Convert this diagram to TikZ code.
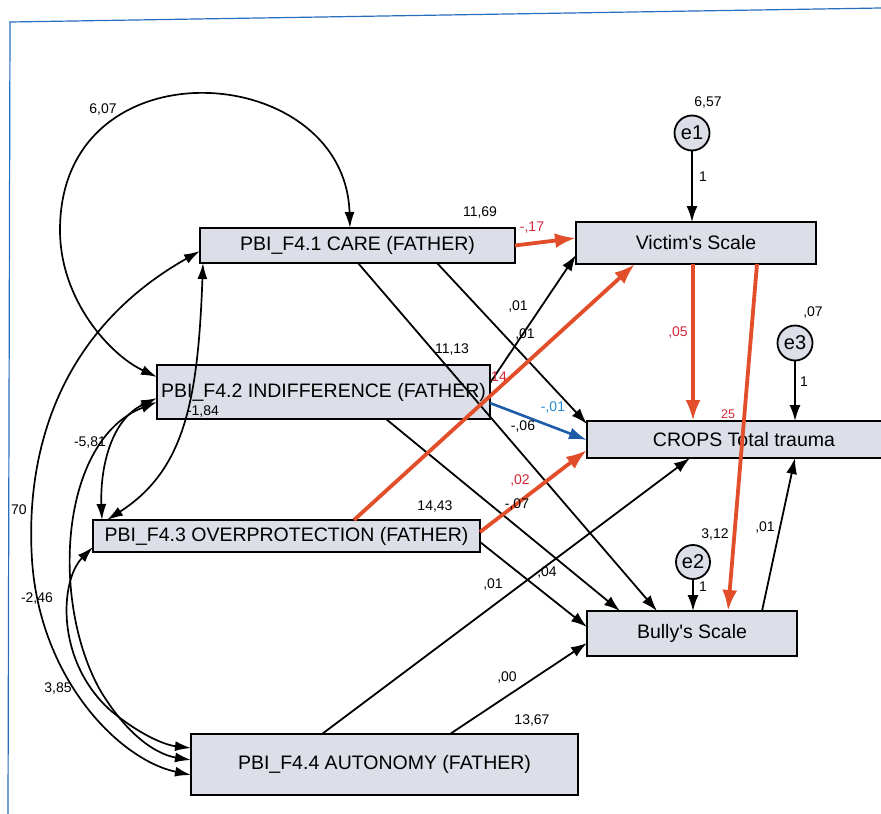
\documentclass[tikz,border=0pt]{standalone}
\usepackage{fontspec}
\setmainfont{Liberation Sans}[Ligatures=TeXOff]
\usetikzlibrary{arrows.meta,calc}
\definecolor{boxfill}{RGB}{220,222,232}
\definecolor{pathred}{RGB}{226,78,42}
\definecolor{labred}{RGB}{214,40,56}
\definecolor{pathblue}{RGB}{28,92,168}
\definecolor{labblue}{RGB}{40,140,210}
\definecolor{frameblue}{RGB}{40,110,190}
\begin{document}
\begin{tikzpicture}[x=1pt,y=-1pt,
  var/.style={draw=black,line width=2pt,fill=boxfill,rectangle,inner sep=0pt,outer sep=0pt,font=\fontsize{19.5}{19.5}\selectfont},
  err/.style={draw=black,line width=1.8pt,fill=boxfill,circle,inner sep=0pt,outer sep=0pt,minimum size=35pt,font=\fontsize{20}{20}\selectfont},
  num/.style={font=\fontsize{14}{14}\selectfont,inner sep=0pt},
  blk/.style={line width=1.8pt,-{Latex[length=16pt,width=11pt]}},
  cov/.style={line width=1.7pt,{Latex[length=16pt,width=10pt]}-{Latex[length=16pt,width=10pt]}},
  redp/.style={line width=3.8pt,draw=pathred,-{Latex[length=21pt,width=15pt]}},
  bluep/.style={line width=2.6pt,draw=pathblue,-{Latex[length=18pt,width=12pt]}},
]
\fill[white] (0,0) rectangle (881,814);
\useasboundingbox (0,0) rectangle (881,814);
\draw[frameblue,line width=1.2pt] (8,814) -- (10,22) -- (881,8);

% variables
\node[var,minimum width=315pt,minimum height=35pt] (care) at (357.5,245.5) {PBI\_F4.1 CARE (FATHER)};
\node[var,minimum width=333pt,minimum height=54pt] (indif) at (323.5,392) {\raisebox{2pt}{PBI\_F4.2 INDIFFERENCE (FATHER)}};
\node[var,minimum width=387pt,minimum height=32pt] (over) at (286.5,536) {PBI\_F4.3 OVERPROTECTION (FATHER)};
\node[var,minimum width=387pt,minimum height=61pt] (auto) at (384.5,764.5) {PBI\_F4.4 AUTONOMY (FATHER)};
\node[var,minimum width=240pt,minimum height=42pt] (vict) at (696,243) {Victim's Scale};
\node[var,minimum width=314pt,minimum height=37pt] (crops) at (744,439.5) {CROPS Total trauma};
\node[var,minimum width=210pt,minimum height=45pt] (bully) at (692,633.5) {Bully's Scale};
\node[err] (e1) at (692,133) {e1};
\node[err] (e3) at (795,343) {e3};
\node[err,minimum size=34pt] (e2) at (693,562) {e2};

% black paths
\draw[blk] ($(care.south west)+(158,0)$) -- ($(bully.north west)+(70,0)$);
\draw[blk] ($(care.south west)+(237,0)$) -- ($(crops.north west)+(0,3)$);
\draw[blk] ($(indif.north east)+(0,18)$) -- ($(vict.south west)+(0,-9)$);
\draw[blk] ($(indif.south west)+(229,0)$) -- ($(bully.north west)+(33,0)$);
\draw[blk] ($(over.north east)+(0,22)$) -- ($(bully.north west)+(0,16)$);
\draw[blk] ($(auto.north west)+(131,0)$) -- ($(crops.south west)+(103,0)$);
\draw[blk] ($(auto.north west)+(259,0)$) -- ($(bully.north west)+(0,32)$);
\draw[blk] ($(bully.north west)+(175,0)$) -- ($(crops.south west)+(208,0)$);
\draw[blk] (e1.south) -- (e1.south |- vict.north);
\draw[blk] (e3.south) -- (e3.south |- crops.north);
\draw[blk] (e2.south) -- (e2.south |- bully.north);

% covariances
\draw[cov] ($(care.north west)+(150,0)$) .. controls (345,60) and (60,40) .. (60,230) .. controls (60,300) and (110,355) .. ($(indif.north west)+(0,12)$);
\draw[cov] ($(care.south west)+(3,0)$) .. controls (198,400) and (185,470) .. ($(over.north west)+(14,0)$);
\draw[cov] ($(indif.north west)+(0,33)$) .. controls (110,420) and (100,470) .. ($(over.north west)+(9,0)$);
\draw[cov] ($(care.south west)+(0,-12)$) .. controls (60,330) and (25,450) .. (32,560) .. controls (40,680) and (120,760) .. ($(auto.north west)+(0,41)$);
\draw[cov] ($(indif.north west)+(0,37)$) .. controls (60,440) and (50,600) .. (100,690) .. controls (130,740) and (160,755) .. ($(auto.north west)+(0,26)$);
\draw[cov] ($(over.south west)+(0,-5)$) .. controls (60,580) and (55,660) .. (110,710) .. controls (140,735) and (165,745) .. ($(auto.north west)+(0,14)$);

% red and blue paths
\draw[redp] (care.east) -- ($(vict.west)+(0,-5)$);
\draw[redp] ($(over.north west)+(261,0)$) -- ($(vict.south west)+(59,0)$);
\draw[redp] ($(over.north east)+(0,12)$) -- ($(crops.south west)+(0,-8)$);
\draw[redp] ($(vict.south west)+(117,0)$) -- ($(crops.north west)+(106,0)$);
\draw[redp] ($(vict.south west)+(181,0)$) -- ($(bully.north west)+(141,0)$);
\draw[bluep] ($(indif.north east)+(0,38)$) -- ($(crops.north west)+(0,19)$);

% labels
\node[num] (l657) at (708,103) {6,57};
\node[num] (le1) at (703,177) {1};
\node[num] (l007) at (813,313) {,07};
\node[num] (le3) at (804,382) {1};
\node[num] (l312) at (715,535) {3,12};
\node[num] (le2) at (703,587) {1};
\node[num] (lbc) at (765,528) {,01};
\node[num] (l607) at (103,110) {6,07};
\node[num,anchor=west] (l70) at (11,510) {70};
\node[num] (l581) at (90,443) {-5,81};
\node[num] (l184) at (203,412) {-1,84};
\node[num] (l246) at (37,598) {-2,46};
\node[num] (l385) at (58,688) {3,85};
\node[num] (l1169) at (480,213) {11,69};
\node[num,text=labred] (l017) at (532,228) {-,17};
\node[num] (la01) at (518,307) {,01};
\node[num] (lb01) at (525,335) {,01};
\node[num] (l1113) at (452,350) {11,13};
\node[num,text=labred] (l14) at (499,377) {14};
\node[num,text=labblue] (lm01) at (553,408) {-,01};
\node[num] (lm06) at (523,427) {-,06};
\node[num,text=labred] (l05) at (678,333) {,05};
\node[num,text=labred,font=\fontsize{12.5}{13}\selectfont] (l25) at (728,414) {25};
\node[num,text=labred] (l02) at (520,481) {,02};
\node[num] (lm07) at (517,505) {-,07};
\node[num] (l1443) at (435,507) {14,43};
\node[num] (l04) at (547,572) {,04};
\node[num] (lc01) at (493,585) {,01};
\node[num] (l00) at (507,677) {,00};
\node[num] (l1367) at (532,720) {13,67};
\end{tikzpicture}
\end{document}
